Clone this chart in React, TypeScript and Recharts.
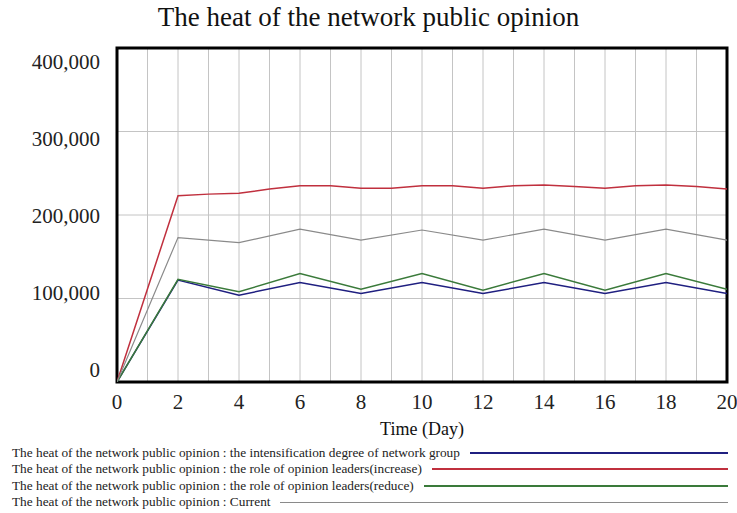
import React from 'react';
import { LineChart, Line, XAxis, YAxis, CartesianGrid, ReferenceArea } from 'recharts';

const title = 'The heat of the network public opinion';
const xAxisLabel = 'Time (Day)';

const xTicks = [0, 1, 2, 3, 4, 5, 6, 7, 8, 9, 10, 11, 12, 13, 14, 15, 16, 17, 18, 19, 20];
const yTicks = [0, 100000, 200000, 300000, 400000];

const evenDays = [0, 2, 4, 6, 8, 10, 12, 14, 16, 18, 20];
const intensificationValues = [0, 122000, 104000, 119000, 106000, 119000, 106000, 119000, 106000, 119000, 106000];
const reduceValues = [0, 123000, 108000, 130000, 111000, 130000, 110000, 130000, 110000, 130000, 111000];
const currentValues = [0, 173000, 167000, 183000, 170000, 182000, 170000, 183000, 170000, 183000, 170000];

const increaseDays = [0, 2, 3, 4, 5, 6, 7, 8, 9, 10, 11, 12, 13, 14, 15, 16, 17, 18, 19, 20];
const increaseValues = [0, 223000, 225000, 226000, 231000, 235000, 235000, 232000, 232000, 235000, 235000, 232000, 235000, 236000, 234000, 232000, 235000, 236000, 234000, 231000];

const seriesNames = [
  'The heat of the network public opinion : the intensification degree of network group',
  'The heat of the network public opinion : the role of opinion leaders(increase)',
  'The heat of the network public opinion : the role of opinion leaders(reduce)',
  'The heat of the network public opinion : Current',
];
const seriesColors = ['#1f1f80', '#c0303e', '#3a7a3a', '#8a8a8a'];

const toPoints = (days: number[], values: number[]) => days.map((d, i) => ({ day: d, v: values[i] }));

const intensificationData = toPoints(evenDays, intensificationValues);
const increaseData = toPoints(increaseDays, increaseValues);
const reduceData = toPoints(evenDays, reduceValues);
const currentData = toPoints(evenDays, currentValues);

const FONT = '"Liberation Serif", "Times New Roman", serif';

const PLOT_TOP = 48;
const PLOT_BOTTOM = 382;
const LABEL_TOP = 62;
const LABEL_BOTTOM = 370;

const YTick = (props: any) => {
  const { x, y, payload } = props;
  const ly = LABEL_TOP + ((y - PLOT_TOP) * (LABEL_BOTTOM - LABEL_TOP)) / (PLOT_BOTTOM - PLOT_TOP);
  return (
    <text x={x} y={ly} dy="0.35em" textAnchor="end" fontFamily={FONT} fontSize={21} fill="#222">
      {Number(payload.value).toLocaleString('en-US')}
    </text>
  );
};

const XTick = (props: any) => {
  const { x, y, payload } = props;
  if (payload.value % 2 !== 0) return null;
  return (
    <text x={x} y={y} dy="0.8em" textAnchor="middle" fontFamily={FONT} fontSize={21} fill="#222">
      {payload.value}
    </text>
  );
};

export default function App() {
  return (
    <div style={{ position: 'absolute', top: 0, left: 0, width: 737, height: 513, background: '#fff', fontFamily: FONT }}>
      <div style={{ position: 'absolute', top: 0, left: 0, width: 737, textAlign: 'center', fontSize: 27, lineHeight: '34px', color: '#111' }}>
        {title}
      </div>
      <LineChart width={737} height={513} margin={{ top: 48, right: 10, bottom: 101, left: 17 }} style={{ overflow: 'visible' }}>
        <CartesianGrid stroke="#c4c4c4" strokeWidth={1} />
        <XAxis
          type="number"
          dataKey="day"
          domain={[0, 20]}
          ticks={xTicks}
          interval={0}
          tick={<XTick />}
          tickLine={false}
          axisLine={false}
          tickSize={0}
          tickMargin={10}
          height={30}
          allowDataOverflow
        />
        <YAxis
          type="number"
          domain={[0, 400000]}
          ticks={yTicks}
          interval={0}
          tick={<YTick />}
          tickLine={false}
          axisLine={false}
          tickSize={0}
          tickMargin={17}
          width={100}
          allowDataOverflow
        />
        <Line data={intensificationData} dataKey="v" stroke={seriesColors[0]} strokeWidth={1.5} dot={false} isAnimationActive={false} />
        <Line data={increaseData} dataKey="v" stroke={seriesColors[1]} strokeWidth={1.5} dot={false} isAnimationActive={false} />
        <Line data={reduceData} dataKey="v" stroke={seriesColors[2]} strokeWidth={1.5} dot={false} isAnimationActive={false} />
        <Line data={currentData} dataKey="v" stroke={seriesColors[3]} strokeWidth={1.2} dot={false} isAnimationActive={false} />
        <ReferenceArea x1={0} x2={20} y1={0} y2={400000} fill="none" fillOpacity={0} stroke="#000" strokeWidth={3} ifOverflow="visible" />
      </LineChart>
      <div style={{ position: 'absolute', top: 419, left: 117, width: 610, textAlign: 'center', fontSize: 18, lineHeight: '20px', color: '#111' }}>
        {xAxisLabel}
      </div>
      {seriesNames.map((name, i) => (
        <div
          key={name}
          style={{ position: 'absolute', left: 12, top: 445 + i * 16.4, width: 716, height: 16, display: 'flex', alignItems: 'center', fontSize: 13.3, lineHeight: '16px', color: '#222', whiteSpace: 'nowrap' }}
        >
          <span>{name}</span>
          <div style={{ flex: 1, marginLeft: 10, height: i === 3 ? 1 : 2, background: seriesColors[i] }} />
        </div>
      ))}
    </div>
  );
}
